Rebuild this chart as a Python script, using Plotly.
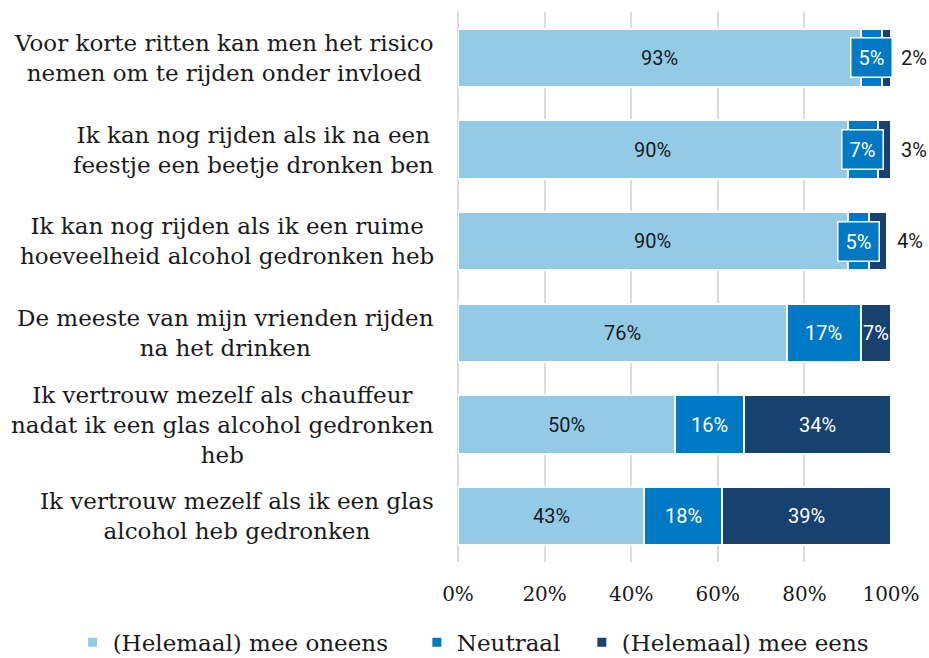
import plotly.graph_objects as go

# Survey statements (top to bottom) and the share of answers per category, in %
statements = [
    "Voor korte ritten kan men het risico<br>nemen om te rijden onder invloed",
    "Ik kan nog rijden als ik na een<br>feestje een beetje dronken ben",
    "Ik kan nog rijden als ik een ruime<br>hoeveelheid alcohol gedronken heb",
    "De meeste van mijn vrienden rijden<br>na het drinken",
    "Ik vertrouw mezelf als chauffeur<br>nadat ik een glas alcohol gedronken<br>heb",
    "Ik vertrouw mezelf als ik een glas<br>alcohol heb gedronken",
]
series_names = ["(Helemaal) mee oneens", "Neutraal", "(Helemaal) mee eens"]
oneens = [93, 90, 90, 76, 50, 43]
neutraal = [5, 7, 5, 17, 16, 18]
eens = [2, 3, 4, 7, 34, 39]
x_ticks = [0, 20, 40, 60, 80, 100]
x_tick_labels = ["0%", "20%", "40%", "60%", "80%", "100%"]

colors = ["#93CBE7", "#0079C4", "#17416F"]
text_colors = ["#1a1a1a", "white", "white"]
GRID = "#dcdcdc"
SERIF = "DejaVu Serif"
SANS = "Roboto"

series = [oneens, neutraal, eens]
legend_ids = ["legend", "legend2", "legend3"]
legend_x = [-0.89, -0.095, 0.286]  # left edges of the three legend entries (paper units)

fig = go.Figure()

for name, vals, col, lid in zip(series_names, series, colors, legend_ids):
    fig.add_trace(go.Bar(
        y=statements, x=vals, orientation="h", name=name,
        marker=dict(color=col, line=dict(color="white", width=2)),
        showlegend=False, hoverinfo="x+name",
    ))
    # legend entry with a small square swatch
    fig.add_trace(go.Scatter(
        x=[None], y=[None], mode="markers", name=name, legend=lid,
        marker=dict(symbol="square", size=9, color=col),
        showlegend=True,
    ))

# value labels on the segments
annotations = []
for i, stmt in enumerate(statements):
    start = 0
    for s, vals in enumerate(series):
        v = vals[i]
        mid = start + v / 2
        end = start + v
        label = f"{v}%"
        if s == 1 and v < 10:
            # narrow middle segment: boxed label
            annotations.append(dict(
                x=mid, y=stmt, xref="x", yref="y", text=label, showarrow=False,
                font=dict(family=SANS, size=20, color="white"),
                bgcolor=colors[1], bordercolor="white", borderwidth=1.5, borderpad=7,
            ))
        elif s == 2 and v < 5:
            # tiny last segment: label outside the bar
            annotations.append(dict(
                x=end, y=stmt, xref="x", yref="y", text=label, showarrow=False,
                xanchor="left", xshift=8,
                font=dict(family=SANS, size=20, color="#1a1a1a"),
            ))
        else:
            annotations.append(dict(
                x=mid, y=stmt, xref="x", yref="y", text=label, showarrow=False,
                font=dict(family=SANS, size=20, color=text_colors[s]),
            ))
        start = end

# category labels, right-aligned block with centred lines
for stmt in statements:
    annotations.append(dict(
        x=0, y=stmt, xref="paper", yref="y", text=stmt, showarrow=False,
        xanchor="right", xshift=-22, align="center",
        font=dict(family=SERIF, size=23, color="#1a1a1a"),
    ))

legend_style = dict(
    orientation="h", xanchor="left", xref="paper",
    y=-0.107, yanchor="top", yref="paper",
    font=dict(family=SERIF, size=23, color="#1a1a1a"),
    itemwidth=30, bgcolor="rgba(0,0,0,0)",
)

fig.update_layout(
    barmode="stack",
    bargap=0.367,
    width=929, height=658,
    margin=dict(l=458, r=38, t=12, b=96, autoexpand=False),
    paper_bgcolor="white", plot_bgcolor="white",
    annotations=annotations,
    xaxis=dict(
        range=[0, 100], tickmode="array", tickvals=x_ticks, ticktext=x_tick_labels,
        showgrid=True, gridcolor=GRID, gridwidth=2,
        zeroline=True, zerolinecolor=GRID, zerolinewidth=2,
        showline=False, ticks="",
        tickfont=dict(family=SERIF, size=20, color="#1a1a1a"),
        ticklabelstandoff=18,
    ),
    yaxis=dict(
        categoryorder="array", categoryarray=statements[::-1],
        showticklabels=False, showgrid=False, zeroline=False, ticks="",
    ),
    legend=dict(x=legend_x[0], **legend_style),
    legend2=dict(x=legend_x[1], **legend_style),
    legend3=dict(x=legend_x[2], **legend_style),
)

fig.write_html("out.html")
